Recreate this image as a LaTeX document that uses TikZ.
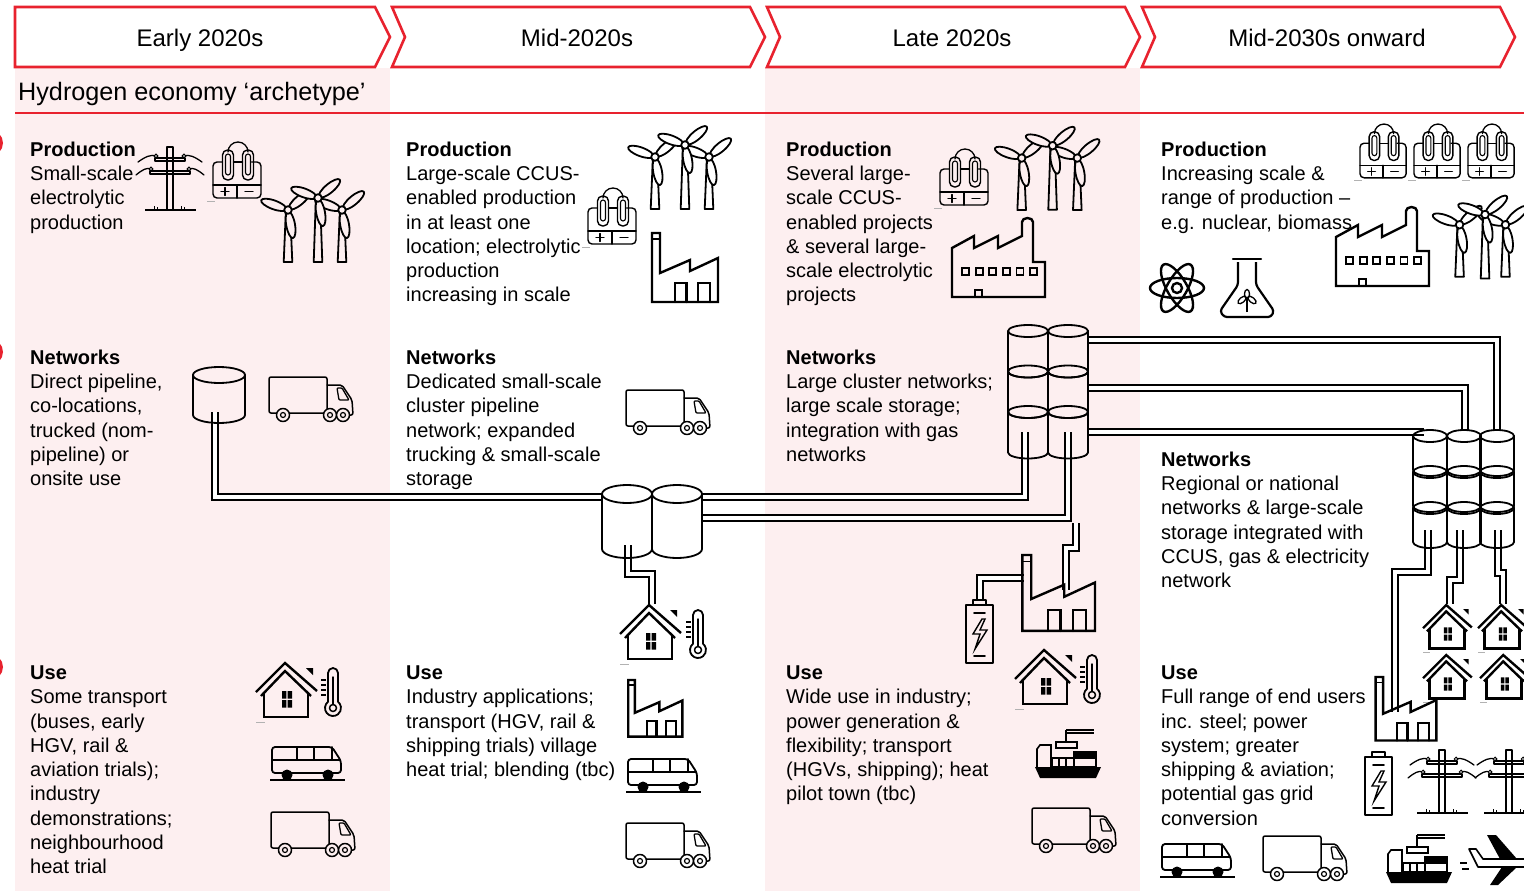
\documentclass[tikz,border=0pt]{standalone}
\usepackage{fontspec}
\setmainfont{Liberation Sans}

\definecolor{hred}{RGB}{232,34,46}
\definecolor{hpink}{RGB}{253,239,240}

% storage drum: centre x, top centre y, half width, height, half depth of ellipse
\newcommand{\storetank}[5]{%
  \draw[icon, line width=1.8pt] (#1,#2) ellipse[x radius=#3, y radius=#5];
  \draw[icon, line width=1.8pt] (#1-#3,#2) -- ++(0,#4)
     arc[start angle=180, end angle=0, x radius=#3, y radius=#5] -- ++(0,-#4);
}

\tikzset{
  icon/.style={line width=2pt, line join=round, line cap=round},
  thin icon/.style={icon, line width=1.5pt},
  pipe/.style={double=white, double distance=3.4pt, line width=2.3pt},
  stage/.style={draw=hred, line width=2.6pt, fill=white, line join=miter},
  period/.style={anchor=base, inner sep=0pt, font=\fontsize{24}{28}\selectfont},
  body/.style={anchor=north west, align=left, inner sep=0pt, font=\fontsize{20}{24.3}\selectfont},
  % wind turbine, #1 = tower length, #2 = fill
  pics/turbine/.style 2 args={code={
    \draw[icon, line width=1.8pt, fill=#2] (-2.2,3) -- (2.2,3) -- (4.3,#1) -- (-4.3,#1) -- cycle;
    \foreach \a in {-80,40,160}
      {\draw[icon, line width=1.8pt, fill=#2, rotate=\a] (15,0) ellipse[x radius=13.5, y radius=4.4];}
    \draw[icon, line width=1.8pt, fill=#2] (0,0) circle (3.8);
  }},
  pics/windfarm/.style={code={
    \pic at (23,35) {turbine={52}{#1}};
    \pic at (77,35) {turbine={52}{#1}};
    \pic at (53,23) {turbine={64}{#1}};
  }},
  % electrolyser box with two clips
  pics/electrolyser/.style={code={
    \draw[icon, line width=1.3pt] (15,9) arc[start angle=180, end angle=360, radius=10];
    \draw[icon, line width=1.4pt, rounded corners=4] (9.5,19) -- (0,19) -- (0,55) -- (48,55) -- (48,19) -- (38.5,19);
    \draw[icon, line width=1.4pt] (20.5,19) -- (29.5,19);
    \foreach \x in {15,35} {
      \draw[icon, line width=1.4pt, rounded corners=5] (\x-5.5,7) rectangle (\x+5.5,37);
      \draw[icon, line width=1.1pt, rounded corners=2.5] (\x-2.5,11) rectangle (\x+2.5,32);
    }
    \draw[icon, line width=1.4pt] (0,42) -- (48,42) (24,42) -- (24,55);
    \draw[icon, line width=1.3pt] (8,48.5) -- (16,48.5) (12,44.5) -- (12,52.5) (32,48.5) -- (40,48.5);
    \draw[gray!60, line width=0.6pt] (-6,58) -- (2,58);
  }},
  pics/pylon/.style={code={
    \draw[icon, line width=1.3pt] (29,0) rectangle (35,63);
    \draw[icon, line width=1.3pt] (17,11) rectangle (47,14) (12,24) rectangle (52,27);
    \draw[icon, line width=1.3pt] (0,15) .. controls (7,10) and (13,7) .. (18,9)
      (64,15) .. controls (57,10) and (51,7) .. (46,9)
      (-2,28) .. controls (4,23) and (9,20) .. (13,22)
      (66,28) .. controls (60,23) and (55,20) .. (51,22);
    \foreach \p in {(18,9),(46,9),(13,22),(51,22)}
      {\draw[line width=1pt, fill=white] \p circle (1.8);}
    \draw[line width=2.2pt] (7,63) -- (58,63);
    \draw[line width=1pt] (16,63) -- (16,59) (19,63) -- (19,60) (43,63) -- (43,59) (46,63) -- (46,60);
  }},
  pics/truck/.style={code={
    \draw[icon, line width=1.5pt, rounded corners=2] (7.5,36) -- (0,36) -- (0,0) -- (58,0) -- (58,36) -- (20.5,36);
    \draw[icon, line width=1.5pt, rounded corners=2] (58,8) -- (73,8) -- (83,23) -- (84,38) -- (80.5,38);
    \draw[icon, line width=1.3pt, rounded corners=1] (68,11) -- (73,11) -- (80,23) -- (70,23) -- cycle;
    \foreach \x in {14,61,74} {
      \draw[icon, line width=1.5pt, fill=#1] (\x,38) circle (6.5);
      \draw[icon, line width=1.2pt] (\x,38) circle (2.5);
    }
  }},
  pics/bus/.style={code={
    \draw[icon, line width=1.8pt, rounded corners=3] (2,28) -- (2,2) -- (62,2) -- (71,16) -- (71,28) -- cycle;
    \draw[icon, line width=1.6pt] (2,15) -- (70,15) (27,2) -- (27,15) (44,2) -- (44,15) (62,2) -- (62,15);
    \fill (17,30) circle (5.5) (58,30) circle (5.5);
    \draw[line width=2.5pt] (0,35) -- (75,35);
  }},
  pics/house/.style={code={
    \draw[line width=2.4pt, line join=miter] (0,29) -- (29,0) -- (61,28);
    \draw[line width=2.4pt, line join=miter] (5,33) -- (29,8) -- (55,33);
    \draw[line width=2.6pt] (8,30) -- (8,54) -- (52,54) -- (52,30);
    \fill (26,28) rectangle +(4.3,7.5) (31.7,28) rectangle +(4.3,7.5)
          (26,37) rectangle +(4.3,7.5) (31.7,37) rectangle +(4.3,7.5);
    \fill (50,5) -- (57,5) -- (57,12) -- cycle;
    \draw[gray!60, line width=0.6pt] (0,59) -- (9,59);
  }},
  pics/thermo/.style={code={
    \draw[icon, line width=1.8pt] (15,33.76) -- (15,5) arc[start angle=0, end angle=-180, radius=5]
      -- (5,33.76) arc[start angle=231.3, end angle=-51.3, radius=8] -- cycle;
    \draw[icon, line width=1.5pt] (10,40) circle (3.5);
    \draw[icon, line width=1.5pt] (10,9) -- (10,36.5);
    \foreach \y in {12,17,22,27} {\draw[line width=1.3pt] (-2,\y) -- (3,\y);}
  }},
  pics/factory/.style={code={
    \draw[icon, line width=2.4pt, line join=miter] (4,69) -- (4,0) -- (12,0) -- (12,40) -- (42,27)
      -- (42,38) -- (70,25) -- (70,69) -- cycle;
    \draw[line width=1.5pt] (4,6) -- (12,6);
    \draw[icon, line width=2.4pt, line join=miter] (27,69) -- (27,50) -- (38.5,50) -- (38.5,69)
      (50,69) -- (50,50) -- (62,50) -- (62,69);
  }},
  pics/bigfactory/.style={code={
    \draw[icon, line width=2.4pt, line join=miter] (0,79) -- (0,30) -- (22,18) -- (22,30) -- (46,18)
      -- (46,30) -- (70,18) -- (70,4) arc[start angle=180, end angle=360, x radius=5.5, y radius=4]
      -- (81,44) -- (93,44) -- (93,79) -- cycle;
    \foreach \k in {0,...,5}
      {\draw[line width=1.8pt] (10+13.6*\k,50) rectangle +(7,7);}
    \draw[line width=1.8pt] (23,79) -- (23,72) -- (30,72) -- (30,79);
  }},
  pics/cell/.style={code={
    \draw[icon, line width=1.6pt] (7,5) -- (7,0) -- (20,0) -- (20,5);
    \draw[icon, line width=1.6pt] (0,5) rectangle (27,63);
    \draw[icon, line width=1.6pt] (8,13) -- (19,13) (8,56) -- (19,56);
    \draw[line width=1.4pt, line join=miter] (16,19) -- (7,34) -- (14,34) -- (9,49) -- (21,30) -- (14,30) -- (19,19) -- cycle;
  }},
  pics/ship/.style={code={
    \draw[line width=1.3pt] (31,1) -- (59,1) (31,4) -- (59,4) (31,1) -- (31,13);
    \draw[line width=1.5pt] (21,13) rectangle (42,19);
    \draw[line width=1.6pt] (2,38) -- (2,20) -- (5,16) -- (16,16) -- (16,38);
    \draw[line width=1.6pt] (17,29) rectangle (39,38) (24,29) -- (24,38) (31,29) -- (31,38);
    \draw[line width=1.6pt] (39,23) rectangle (61,38);
    \fill (39,23) rectangle (61,30);
    \fill (0,38) -- (66,38) -- (61,49) -- (5,49) -- cycle;
  }},
  pics/plane/.style={code={
    \draw[line width=1.6pt, line join=round] (9,14) -- (16,14) -- (23,24) -- (66,24)
      .. controls (76,24) and (76,32) .. (66,32) -- (18,32) -- cycle;
    \fill (27,0) -- (36,0) -- (57,24) -- (40,24) -- cycle;
    \fill (42,32) -- (57,32) -- (38,50) -- (30,50) -- cycle;
    \draw[line width=1.6pt] (0,28) -- (7,28) (2,34) -- (9,34);
  }},
}

\begin{document}
\begin{tikzpicture}[x=1pt, y=-1pt]
  \useasboundingbox (0,0) rectangle (1524,891);
  \fill[white] (0,0) rectangle (1524,891);

  % shaded periods
  \fill[hpink] (15,68) rectangle (390,891);
  \fill[hpink] (765,68) rectangle (1140,891);
  \draw[hred, line width=1.4pt] (15,113) -- (1524,113);

  % section markers at the left margin
  \foreach \y in {143,352,667} {\fill[hred] (-10,\y) circle (13);}

  % period chevrons
  \draw[stage] (15,7) -- (375,7) -- (390,37) -- (375,67) -- (15,67) -- cycle;
  \foreach \L in {392,767,1142}
    {\draw[stage] (\L,7) -- (\L+358,7) -- (\L+373,37) -- (\L+358,67) -- (\L,67) -- (\L+13,37) -- cycle;}
  \node[period] (p1) at (200,46.5) {Early 2020s};
  \node[period] (p2) at (577,46.5) {Mid-2020s};
  \node[period] (p3) at (952,46.5) {Late 2020s};
  \node[period] (p4) at (1327,46.5) {Mid-2030s onward};
  \node[anchor=base west, inner sep=0pt, font=\fontsize{25.2}{28}\selectfont] (arch) at (18,100.5)
    {Hydrogen economy ‘archetype’};

  % pipelines
  \draw[pipe] (215,412) -- (215,497) -- (602,497);
  \draw[pipe] (702,497) -- (1025,497) -- (1025,432);
  \draw[pipe] (702,518) -- (1068,518) -- (1068,432);
  \draw[pipe] (628,545) -- (628,574) -- (652,574) -- (652,604);
  \draw[pipe] (980,600) -- (980,578) -- (1024,578);
  \draw[pipe] (1066,590) -- (1066,548) -- (1076,548) -- (1076,523);
  \draw[pipe] (1088,340) -- (1497,340) -- (1497,431);
  \draw[pipe] (1088,388) -- (1465,388) -- (1465,431);
  \draw[pipe] (1088,432) -- (1424,432);
  \draw[pipe] (1428,530) -- (1428,572) -- (1395,572) -- (1395,712);
  \draw[pipe] (1460,530) -- (1460,580) -- (1450,580) -- (1450,604);
  \draw[pipe] (1498,530) -- (1498,573) -- (1503,573) -- (1503,604);

  % storage
  \storetank{219}{375}{26}{40}{8}
  \storetank{627}{494}{25}{55}{9}
  \storetank{677}{494}{25}{55}{9}
  \foreach \cx in {1028,1068} {
    \foreach \ty in {331,371.5,412} {
      \storetank{\cx}{\ty}{20}{40.5}{6}
    }
  }
  \foreach \cx in {1430,1464,1497} {
    \foreach \ty in {436,472,508} {
      \storetank{\cx}{\ty}{17}{34}{6}
    }
  }

  % production icons
  \pic at (138,147) {pylon};
  \pic at (213,143) {electrolyser};
  \pic at (265,175) {windfarm=hpink};
  \pic at (632,122) {windfarm=white};
  \pic at (588,189) {electrolyser};
  \pic at (648,233) {factory};
  \pic at (940,150) {electrolyser};
  \pic[scale=1.03] at (998,122) {windfarm=hpink};
  \pic at (952,218) {bigfactory};
  \foreach \x in {1360,1414,1468}
    {\pic[scale=0.96] at (\x,125) {electrolyser};}
  \pic at (1336,207) {bigfactory};
  \pic[scale=0.85] at (1440,195) {windfarm=white};
  \foreach \a in {0,60,120}
    {\draw[line width=2.4pt, rotate around={\a:(1177,288)}] (1177,288) ellipse[x radius=27, y radius=10];}
  \draw[line width=2.4pt] (1177,288) circle (5);
  \draw[line width=2.2pt, rounded corners=3] (1238,262) -- (1238,285) -- (1220,311) -- (1224,317)
    -- (1271,317) -- (1274,311) -- (1256,285) -- (1256,262);
  \draw[line width=2.2pt, line cap=round] (1233,259) -- (1261,259);
  \draw[line width=1.5pt] (1247,312) -- (1247,297);
  \draw[line width=1.3pt, rotate around={40:(1242,300)}] (1242,300) ellipse[x radius=5, y radius=2.5];
  \draw[line width=1.3pt, rotate around={-40:(1252,300)}] (1252,300) ellipse[x radius=5, y radius=2.5];
  \draw[line width=1.3pt] (1247,294) ellipse[x radius=2.5, y radius=4.5];

  % network icons
  \pic at (269,377) {truck=hpink};
  \pic at (626,390) {truck=white};

  % use icons
  \pic at (256,663) {house};
  \pic at (323,668) {thermo};
  \pic at (270,745) {bus};
  \pic at (271,812) {truck=hpink};
  \pic at (620,605) {house};
  \pic at (688,610) {thermo};
  \pic[scale=0.82] at (625,680) {factory};
  \pic at (626,757) {bus};
  \pic at (626,823) {truck=white};
  \pic[scale=1.1] at (1018,555) {factory};
  \pic at (966,600) {cell};
  \pic at (1015,650) {house};
  \pic at (1082,655) {thermo};
  \pic at (1035,729) {ship};
  \pic at (1032,808) {truck=hpink};
  \pic[scale=0.8] at (1423,605) {house};
  \pic[scale=0.8] at (1478,605) {house};
  \pic[scale=0.8] at (1423,655) {house};
  \pic[scale=0.8] at (1480,655) {house};
  \pic[scale=0.92] at (1372,677) {factory};
  \pic at (1365,752) {cell};
  \pic at (1410,750) {pylon};
  \pic at (1477,750) {pylon};
  \pic at (1160,842) {bus};
  \pic at (1263,836) {truck=white};
  \pic at (1386,834) {ship};
  \pic at (1460,835) {plane};

  % text per period
  \node[body] (prod1) at (30,141.5) {\textbf{Production}\\Small-scale\\electrolytic\\production};
  \node[body] (net1) at (30,349.5) {\textbf{Networks}\\Direct pipeline,\\co-locations,\\trucked (nom-\\pipeline) or\\onsite use};
  \node[body] (use1) at (30,665.5) {\textbf{Use}\\Some transport\\(buses, early\\HGV, rail \&\\aviation trials);\\industry\\demonstrations;\\neighbourhood\\heat trial};

  \node[body] (prod2) at (406,141.5) {\textbf{Production}\\Large-scale CCUS-\\enabled production\\in at least one\\location; electrolytic\\production\\increasing in scale};
  \node[body] (net2) at (406,349.5) {\textbf{Networks}\\Dedicated small-scale\\cluster pipeline\\network; expanded\\trucking \& small-scale\\storage};
  \node[body] (use2) at (406,665.5) {\textbf{Use}\\Industry applications;\\transport (HGV, rail \&\\shipping trials) village\\heat trial; blending (tbc)};

  \node[body] (prod3) at (786,141.5) {\textbf{Production}\\Several large-\\scale CCUS-\\enabled projects\\\& several large-\\scale electrolytic\\projects};
  \node[body] (net3) at (786,349.5) {\textbf{Networks}\\Large cluster networks;\\large scale storage;\\integration with gas\\networks};
  \node[body] (use3) at (786,665.5) {\textbf{Use}\\Wide use in industry;\\power generation \&\\flexibility; transport\\(HGVs, shipping); heat\\pilot town (tbc)};

  \node[body] (prod4) at (1161,141.5) {\textbf{Production}\\Increasing scale \&\\range of production –\\e.g. nuclear, biomass};
  \node[body] (net4) at (1161,451.5) {\textbf{Networks}\\Regional or national\\networks \& large-scale\\storage integrated with\\CCUS, gas \& electricity\\network};
  \node[body] (use4) at (1161,665.5) {\textbf{Use}\\Full range of end users\\inc. steel; power\\system; greater\\shipping \& aviation;\\potential gas grid\\conversion};
\end{tikzpicture}
\end{document}
